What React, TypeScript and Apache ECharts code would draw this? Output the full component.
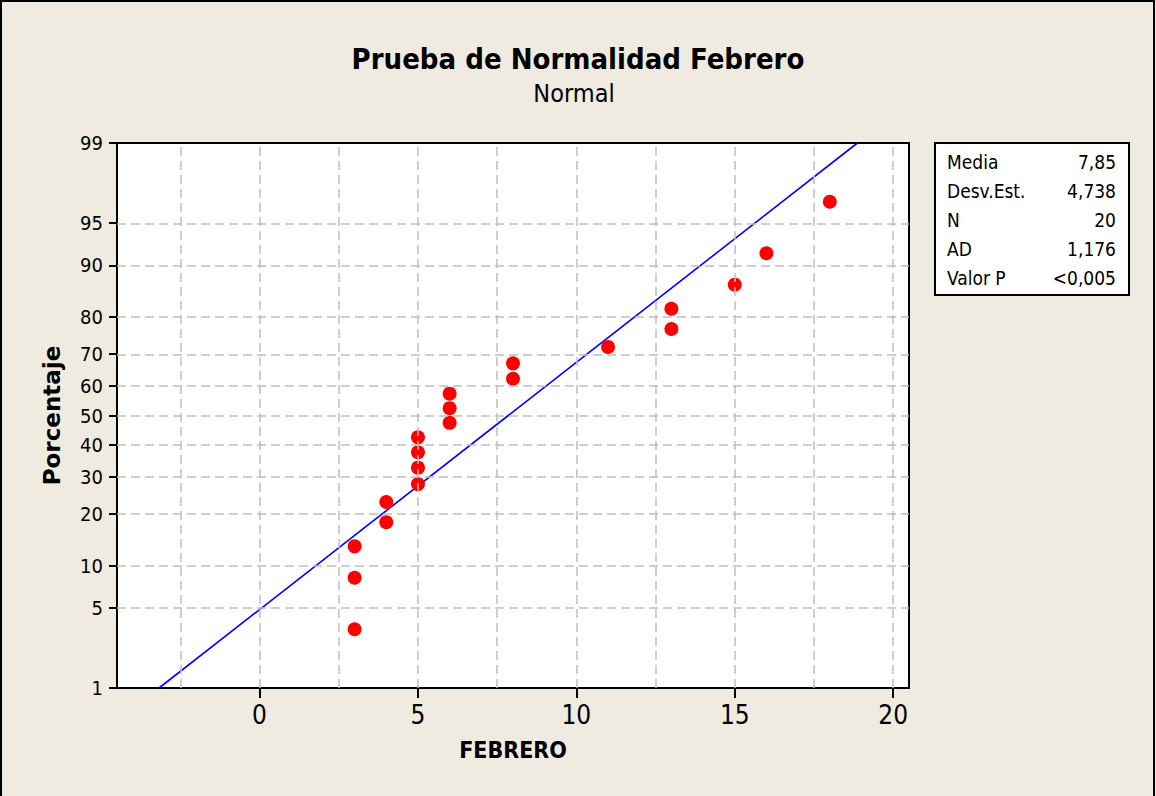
import React, { useEffect, useRef } from "react";
import * as echarts from "echarts";

// ---- data ----
const febreroValues = [3, 3, 3, 4, 4, 5, 5, 5, 5, 6, 6, 6, 8, 8, 11, 13, 13, 15, 16, 18];
const percentValues = [3.4, 8.3, 13.2, 18.1, 23.0, 27.9, 32.8, 37.7, 42.6, 47.5, 52.5, 57.4, 62.3, 67.2, 72.1, 77.0, 81.9, 86.8, 91.7, 96.6];
const yTickLabels = [1, 5, 10, 20, 30, 40, 50, 60, 70, 80, 90, 95, 99];
const yGridLabels = [5, 10, 20, 30, 40, 50, 60, 70, 80, 90, 95];
const xTickLabels = [0, 5, 10, 15, 20];
const xGridValues = [-2.5, 0, 2.5, 5, 7.5, 10, 12.5, 15, 17.5, 20];
const statNames = ["Media", "Desv.Est.", "N", "AD", "Valor P"];
const statValues = ["7,85", "4,738", "20", "1,176", "<0,005"];
const fitMean = 7.85;
const fitSd = 4.738;

const FONT = '"DejaVu Sans Condensed", "DejaVu Sans", sans-serif';
const FONT_WIDE = '"DejaVu Sans", sans-serif';

function normInv(p: number): number {
  const a = [-3.969683028665376e1, 2.209460984245205e2, -2.759285104469687e2, 1.38357751867269e2, -3.066479806614716e1, 2.506628277459239];
  const b = [-5.447609879822406e1, 1.615858368580409e2, -1.556989798598866e2, 6.680131188771972e1, -1.328068155288572e1];
  const c = [-7.784894002430293e-3, -3.223964580411365e-1, -2.400758277161838, -2.549671010429539, 4.374664141464968, 2.938163982698783];
  const d = [7.784695709041462e-3, 3.224671290700398e-1, 2.445134137142996, 3.754408661907416];
  const pl = 0.02425;
  const ph = 1 - pl;
  let q: number, r: number;
  if (p < pl) {
    q = Math.sqrt(-2 * Math.log(p));
    return (((((c[0] * q + c[1]) * q + c[2]) * q + c[3]) * q + c[4]) * q + c[5]) / ((((d[0] * q + d[1]) * q + d[2]) * q + d[3]) * q + 1);
  }
  if (p <= ph) {
    q = p - 0.5;
    r = q * q;
    return ((((((a[0] * r + a[1]) * r + a[2]) * r + a[3]) * r + a[4]) * r + a[5]) * q) / (((((b[0] * r + b[1]) * r + b[2]) * r + b[3]) * r + b[4]) * r + 1);
  }
  q = Math.sqrt(-2 * Math.log(1 - p));
  return -(((((c[0] * q + c[1]) * q + c[2]) * q + c[3]) * q + c[4]) * q + c[5]) / ((((d[0] * q + d[1]) * q + d[2]) * q + d[3]) * q + 1);
}

export default function App() {
  const ref = useRef<HTMLDivElement>(null);
  useEffect(() => {
    document.body.style.margin = "0";
    if (!ref.current) return;
    const chart = echarts.init(ref.current, undefined, { renderer: "svg" });
    const zMin = normInv(0.01);
    const zMax = normInv(0.99);
    const yTickZ = yTickLabels.map((p) => normInv(p / 100));
    const points = febreroValues.map((x, i) => [x, normInv(percentValues[i] / 100)]);
    const fitLine = [
      [fitMean + fitSd * zMin, zMin],
      [fitMean + fitSd * zMax, zMax],
    ];
    const gridLineData: any[] = [
      ...xGridValues.map((v) => ({ xAxis: v })),
      ...yGridLabels.map((p) => ({ yAxis: normInv(p / 100) })),
    ];

    const rowY = [162, 191, 220, 249, 278];
    const statGraphics: any[] = [];
    statNames.forEach((n, i) => {
      statGraphics.push({
        type: "text",
        x: 947,
        y: rowY[i],
        style: { text: n, fontSize: 19, fontFamily: FONT, fill: "#000", textAlign: "left", textVerticalAlign: "middle" },
      });
      statGraphics.push({
        type: "text",
        x: 1116,
        y: rowY[i],
        style: { text: statValues[i], fontSize: 19, fontFamily: FONT, fill: "#000", textAlign: "right", textVerticalAlign: "middle" },
      });
    });

    chart.setOption({
      animation: false,
      backgroundColor: "#EFEBE1",
      grid: {
        left: 117,
        top: 143,
        width: 792,
        height: 545,
        show: true,
        backgroundColor: "#ffffff",
        borderColor: "#000000",
        borderWidth: 2,
        z: 0,
      },
      xAxis: {
        type: "value",
        min: -4.5,
        max: 20.5,
        name: "FEBRERO",
        nameLocation: "middle",
        nameGap: 50,
        nameTextStyle: { fontSize: 23, fontWeight: "bold", fontFamily: FONT, color: "#000" },
        axisLine: { show: true, onZero: false, lineStyle: { color: "#000", width: 2 } },
        axisTick: { show: true, inside: false, length: 10, customValues: xTickLabels, lineStyle: { color: "#000", width: 2 } },
        axisLabel: { customValues: xTickLabels, fontSize: 26, fontFamily: FONT, color: "#000", margin: 14 },
        splitLine: { show: false },
      },
      yAxis: {
        type: "value",
        min: zMin,
        max: zMax,
        name: "Porcentaje",
        nameLocation: "middle",
        nameGap: 54,
        nameTextStyle: { fontSize: 23, fontWeight: "bold", fontFamily: FONT_WIDE, color: "#000" },
        axisLine: { show: true, onZero: false, lineStyle: { color: "#000", width: 2 } },
        axisTick: { show: true, inside: false, length: 8, customValues: yTickZ, lineStyle: { color: "#000", width: 2 } },
        axisLabel: {
          customValues: yTickZ,
          fontSize: 20,
          fontFamily: FONT,
          color: "#000",
          margin: 14,
          formatter: (v: number) => {
            let best = 0;
            let bd = Infinity;
            yTickZ.forEach((z, i) => {
              const dd = Math.abs(z - v);
              if (dd < bd) {
                bd = dd;
                best = i;
              }
            });
            return String(yTickLabels[best]);
          },
        },
        splitLine: { show: false },
      },
      series: [
        {
          type: "line",
          data: [],
          z: 1,
          silent: true,
          markLine: {
            silent: true,
            symbol: "none",
            label: { show: false },
            lineStyle: { color: "#BEBEBE", width: 1.5, type: [9, 5] },
            data: gridLineData,
          },
        },
        {
          type: "line",
          data: fitLine,
          showSymbol: false,
          symbol: "none",
          z: 3,
          lineStyle: { color: "#0000FF", width: 1.6 },
        },
        {
          type: "scatter",
          data: points,
          symbol: "circle",
          symbolSize: 14,
          z: 4,
          itemStyle: { color: "#FF0000", opacity: 1 },
        },
      ],
      graphic: [
        {
          type: "rect",
          shape: { x: 1, y: 1, width: 1153, height: 820 },
          style: { fill: "none", stroke: "#000", lineWidth: 2 },
          silent: true,
        },
        {
          type: "text",
          x: 578,
          y: 59,
          style: { text: "Prueba de Normalidad Febrero", fontSize: 29, fontWeight: "bold", fontFamily: FONT, fill: "#000", textAlign: "center", textVerticalAlign: "middle" },
        },
        {
          type: "text",
          x: 574,
          y: 93,
          style: { text: "Normal", fontSize: 25, fontFamily: FONT, fill: "#000", textAlign: "center", textVerticalAlign: "middle" },
        },
        {
          type: "rect",
          shape: { x: 935, y: 143, width: 194, height: 152 },
          style: { fill: "#ffffff", stroke: "#000", lineWidth: 2 },
        },
        ...statGraphics,
      ],
    });
    return () => chart.dispose();
  }, []);
  return <div ref={ref} style={{ width: 1156, height: 796 }} />;
}
